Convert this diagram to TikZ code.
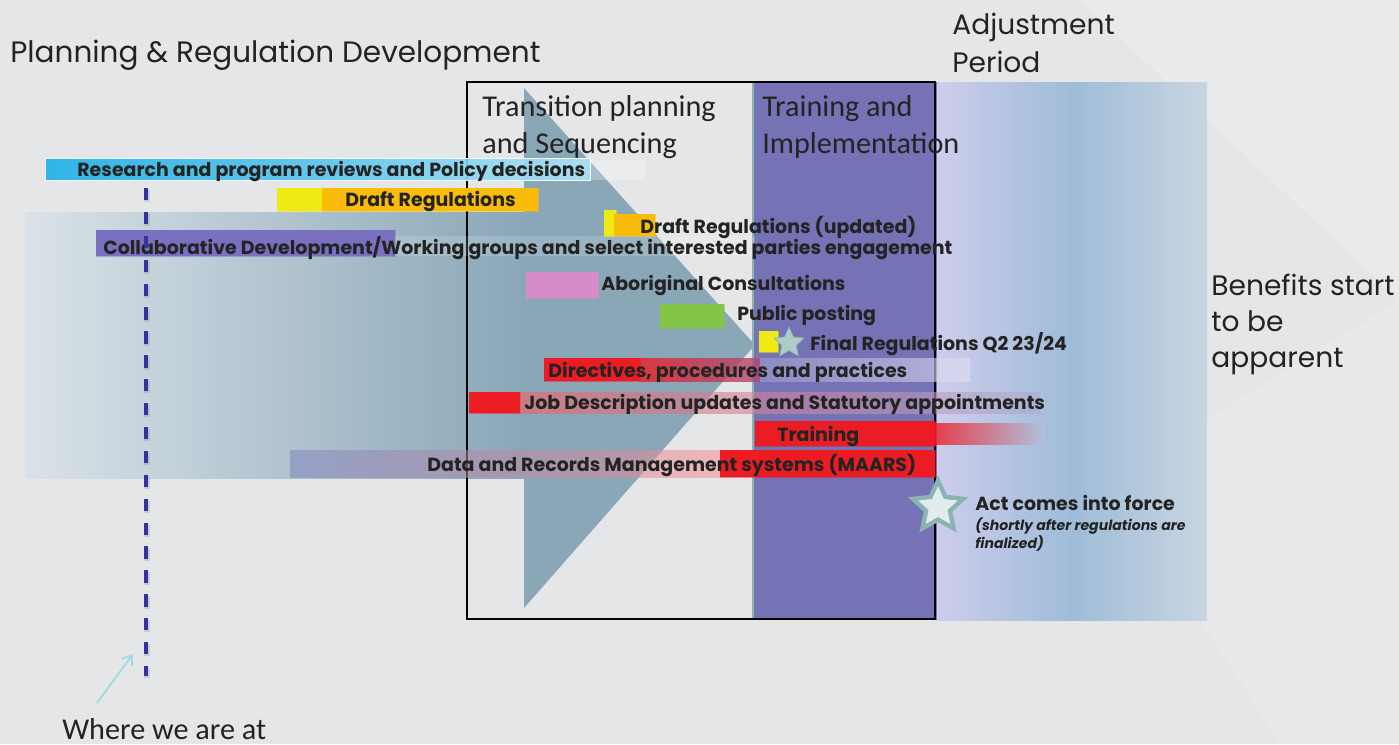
\documentclass[tikz,border=0pt]{standalone}
\usepackage{fontspec}
\setmainfont{Poppins}
\newfontfamily\calibfont{Carlito}
\usetikzlibrary{shapes.geometric, arrows.meta, positioning}

\definecolor{bggray}{RGB}{229,230,232}
\definecolor{steel}{RGB}{138,167,184}
\definecolor{steellight}{RGB}{218,226,232}
\definecolor{implpurple}{RGB}{117,114,181}
\definecolor{lavender}{RGB}{205,205,236}
\definecolor{adjblue}{RGB}{158,188,216}
\definecolor{barcyan}{RGB}{30,176,230}
\definecolor{baryellow}{RGB}{240,234,20}
\definecolor{barorange}{RGB}{250,188,10}
\definecolor{barpurple}{RGB}{122,112,192}
\definecolor{barpink}{RGB}{214,140,200}
\definecolor{bargreen}{RGB}{132,196,72}
\definecolor{barred}{RGB}{236,28,36}
\definecolor{dashblue}{RGB}{50,50,160}
\definecolor{starteal}{RGB}{138,180,178}
\definecolor{arrowcyan}{RGB}{160,218,224}
\definecolor{labeltext}{RGB}{35,35,35}

\tikzset{
  phase/.style={font=\fontsize{16.8}{21.5}\selectfont, text=labeltext, align=left, inner sep=0pt, anchor=north west},
  stage/.style={font=\calibfont\fontsize{17.2}{21}\selectfont, text=labeltext, align=left, inner sep=0pt, anchor=north west},
  barlabel/.style={font=\bfseries\fontsize{10.8}{12}\selectfont, text=labeltext, anchor=west, inner sep=0pt, yshift=-1.2pt},
  bar/.style={draw=white, draw opacity=0.5, line width=0.4pt},
  milestone/.style={star, star points=5, star point ratio=2.1, draw=starteal, inner sep=0pt},
}

\begin{document}
\begin{tikzpicture}[x=0.02cm, y=-0.02cm]
\useasboundingbox (0,0) rectangle (1399,744);
% background
\fill[bggray] (0,0) rectangle (1399,744);
\fill[white, opacity=0.18] (1080,0) -- (1399,0) -- (1399,300) -- cycle;
\fill[white, opacity=0.12] (1110,480) -- (1399,300) -- (1399,744) -- (1280,744) -- cycle;

% planning arrow
\shade[left color=steellight, right color=steel] (25,212) rectangle (524,478);
\fill[steel] (524,88) -- (755,345) -- (524,608) -- cycle;

% adjustment period and implementation
\shade[left color=lavender, right color=adjblue!40!bggray, middle color=adjblue] (937,82) rectangle (1207,620);
\fill[implpurple] (753,82) rectangle (937,620);
\draw[starteal, line width=1.5pt] (753,82) -- (753,620);
\draw[line width=1.2pt] (467,82) rectangle (935,619);

% phase titles
\node[phase] (planning) at (10,40) {Planning \& Regulation Development};
\node[phase, font=\fontsize{16}{21.5}\selectfont] (adjust) at (952,13) {Adjustment\\Period};
\node[phase, font=\fontsize{16}{20.5}\selectfont] (benefits) at (1211,274) {Benefits start\\to be\\apparent};
\node[stage] (transition) at (482,95) {Transition planning\\and Sequencing};
\node[stage] (implement) at (762,95) {Training and\\Implementation};

% bars
\shade[bar, left color=barcyan, right color=white!65!barcyan, middle color=barcyan!75!white, opacity=0.9] (45,158) rectangle (590,180);
\fill[white, opacity=0.25] (590,160) rectangle (645,180);
\fill[bar, baryellow] (277,188) rectangle (322,211);
\fill[bar, barorange] (322,188) rectangle (538,211);
\fill[bar, baryellow] (604,210) rectangle (616,236);
\fill[bar, barorange] (614,214) rectangle (655,236);
\fill[bar, barpurple] (96,230) rectangle (395,256);
\fill[white, opacity=0.15] (395,236) rectangle (755,256);
\fill[bar, barpink] (526,272) rectangle (598,298);
\fill[bar, bargreen] (660,304) rectangle (724,328);
\fill[bar, baryellow] (759,331) rectangle (778,352);
\fill[bar, barred] (544,358) rectangle (640,381);
\shade[left color=barred, right color=barred!45!implpurple, opacity=0.8] (640,358) rectangle (760,381);
\shade[left color=implpurple!70!white, right color=lavender!60!white, opacity=0.6] (760,358) rectangle (970,381);
\fill[bar, barred] (469,392) rectangle (520,413);
\shade[left color=barred!70!white, right color=implpurple!60!white, opacity=0.6] (520,392) rectangle (1040,413);
\fill[bar, barred] (755,421) rectangle (935,446);
\shade[left color=barred, right color=lavender!40!adjblue, opacity=0.8] (935,423) rectangle (1045,444);
\shade[left color=steel!40!barpurple, right color=barred!50!white, opacity=0.55] (290,450) rectangle (720,477);
\fill[bar, barred] (720,450) rectangle (935,477);

% bar labels
\node[barlabel] (research) at (77,169) {Research and program reviews and Policy decisions};
\node[barlabel] (draft) at (345,199) {Draft Regulations};
\node[barlabel] (draftupd) at (640,225) {Draft Regulations (updated)};
\node[barlabel] (collab) at (103,246) {Collaborative Development/Working groups and select interested parties engagement};
\node[barlabel] (aboriginal) at (601,283) {Aboriginal Consultations};
\node[barlabel] (posting) at (737,313) {Public posting};
\node[milestone, fill=starteal!70!white, minimum size=18pt] (finalstar) at (789,343) {};
\node[barlabel] (final) at (810,342) {Final Regulations Q2 23/24};
\node[barlabel] (directives) at (548,370) {Directives, procedures and practices};
\node[barlabel] (jobdesc) at (524,402) {Job Description updates and Statutory appointments};
\node[barlabel] (training) at (777,434) {Training};
\node[barlabel] (maars) at (427,463) {Data and Records Management systems (MAARS)};

% act in force
\node[milestone, fill=starteal!25!white, line width=2.5pt, minimum size=30pt] (actstar) at (938,507) {};
\node[barlabel] (act) at (975,501) {Act comes into force};
\node[barlabel, anchor=north west, align=left, font=\bfseries\itshape\fontsize{8}{10.5}\selectfont] (actnote) at (975,515) {(shortly after regulations are\\finalized)};

% where we are at
\draw[gray, opacity=0.25, line width=3.5pt, dash pattern=on 7pt off 6.6pt] (147,190) -- (147,678);
\draw[dashblue, line width=2.3pt, dash pattern=on 7pt off 6.6pt] (146,188) -- (146,676);
\node[stage, anchor=base west] (where) at (62,739) {Where we are at};
\coordinate (whereto) at (133,654);
\coordinate (wherefrom) at (97,703);
\draw[arrowcyan, line width=1pt, -{Straight Barb[length=5pt, width=7pt]}] (wherefrom) -- (whereto);
\end{tikzpicture}
\end{document}
